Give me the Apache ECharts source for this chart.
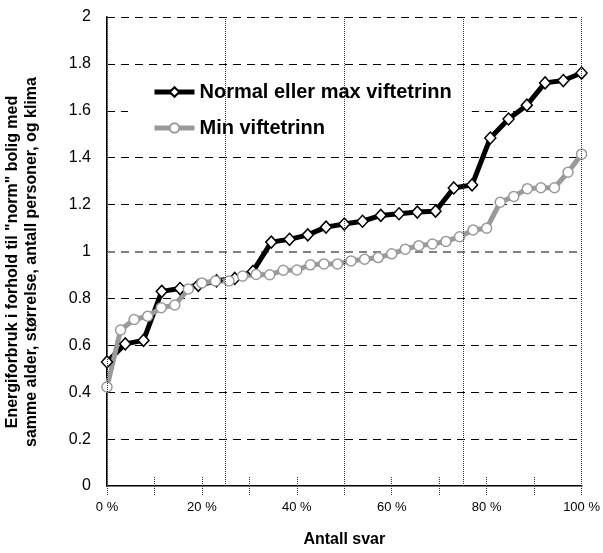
<!DOCTYPE html>
<html>
<head>
<meta charset="utf-8">
<script src="https://cdn.jsdelivr.net/npm/echarts@6/dist/echarts.min.js"></script>
<style>
html,body{margin:0;padding:0;background:#fff;}
#chart{width:603px;height:553px;}
</style>
</head>
<body>
<div id="chart"></div>
<script>
// Series values (sorted responses)
const normalName = 'Normal eller max viftetrinn';
const normalValues = [0.529, 0.606, 0.621, 0.830, 0.842, 0.856, 0.875, 0.885, 0.915, 1.040,
  1.052, 1.071, 1.104, 1.117, 1.129, 1.154, 1.161, 1.168, 1.172, 1.271,
  1.284, 1.484, 1.565, 1.624, 1.719, 1.729, 1.761];
const minName = 'Min viftetrinn';
const minValues = [0.422, 0.665, 0.710, 0.724, 0.760, 0.772, 0.840, 0.866, 0.874, 0.874,
  0.895, 0.902, 0.901, 0.920, 0.921, 0.943, 0.947, 0.947, 0.960, 0.967,
  0.974, 0.990, 1.010, 1.025, 1.032, 1.043, 1.063, 1.092, 1.099, 1.210,
  1.235, 1.268, 1.272, 1.272, 1.338, 1.415];
const xTickLabels = ['0 %', '20 %', '40 %', '60 %', '80 %', '100 %'];
const xAxisTitle = 'Antall svar';
const yAxisTitle = ['Energiforbruk i forhold til "norm" bolig med', 'samme alder, størrelse, antall personer, og klima'];
const referenceLevel = 1;

// share of responses (percent rank) for each sorted value
function withPercent(arr) {
  return arr.map((v, i) => [i * 100 / (arr.length - 1), v]);
}

const FONT = '"Liberation Sans", Arial, sans-serif';
const chart = echarts.init(document.getElementById('chart'), null, {renderer: 'canvas'});

chart.setOption({
  animation: false,
  backgroundColor: '#fff',
  textStyle: {fontFamily: FONT},
  grid: {left: 107, right: 19, top: 17, bottom: 60, containLabel: false},
  legend: {
    orient: 'vertical',
    left: 128, top: 67,
    padding: [15, 20, 15, 24],
    backgroundColor: '#fff',
    itemWidth: 40, itemHeight: 12, itemGap: 16,
    selectedMode: false,
    z: 4,
    lineStyle: {width: 5},
    textStyle: {fontFamily: FONT, fontWeight: 'bold', fontSize: 20, color: '#000'},
    data: [normalName, minName]
  },
  xAxis: [
    {
      type: 'value', min: 0, max: 100, interval: 10, position: 'bottom',
      axisLine: {lineStyle: {color: '#000', width: 2}},
      axisTick: {inside: true, length: 9, lineStyle: {type: 'dotted', color: '#333'}},
      axisLabel: {
        fontSize: 13, color: '#000', margin: 15, fontFamily: FONT,
        showMinLabel: true, showMaxLabel: true,
        formatter: function (v) { return v % 20 === 0 ? xTickLabels[v / 20] : ''; }
      },
      splitLine: {show: false},
      name: xAxisTitle, nameLocation: 'middle', nameGap: 46,
      nameTextStyle: {fontFamily: FONT, fontWeight: 'bold', fontSize: 16, color: '#000'}
    },
    {
      type: 'value', min: 0, max: 100, interval: 10, position: 'top',
      axisLine: {lineStyle: {color: '#808080', width: 1}},
      axisTick: {inside: true, length: 9, lineStyle: {type: 'dotted', color: '#333'}},
      axisLabel: {show: false},
      splitLine: {show: false}
    },
    {
      type: 'value', min: 0, max: 100, interval: 25, position: 'top',
      axisLine: {show: false}, axisTick: {show: false}, axisLabel: {show: false},
      splitLine: {show: true, lineStyle: {type: 'dotted', color: '#333', width: 1}},
      z: 10
    }
  ],
  yAxis: [
    {
      type: 'value', min: 0, max: 2, interval: 0.2, position: 'left',
      axisLine: {show: true, lineStyle: {color: '#000', width: 2}},
      axisTick: {show: false},
      axisLabel: {fontSize: 16, color: '#000', margin: 16, fontFamily: FONT},
      splitLine: {show: true, lineStyle: {type: [8, 6], color: '#000', width: 1}}
    },
    {
      type: 'value', min: 0, max: 2, interval: 0.2, position: 'right',
      axisLine: {show: true, lineStyle: {color: '#808080', width: 1}},
      axisTick: {show: false}, axisLabel: {show: false}, splitLine: {show: false}
    }
  ],
  graphic: [{
    type: 'text',
    x: 22, y: 262,
    rotation: Math.PI / 2,
    style: {
      text: yAxisTitle.join('\n'),
      font: 'bold 16px ' + FONT,
      fill: '#000',
      align: 'center',
      verticalAlign: 'middle',
      lineHeight: 19
    }
  }],
  series: [
    {
      name: normalName, type: 'line', xAxisIndex: 0, yAxisIndex: 0,
      data: withPercent(normalValues),
      symbol: 'diamond', symbolSize: [11, 12],
      lineStyle: {color: '#000', width: 5},
      itemStyle: {color: '#fff', borderColor: '#000', borderWidth: 1.5},
      z: 3,
      markLine: {
        silent: true, symbol: 'none', label: {show: false},
        lineStyle: {color: '#808080', type: [8, 6], width: 2},
        data: [{yAxis: referenceLevel}],
        z: 1
      }
    },
    {
      name: minName, type: 'line', xAxisIndex: 0, yAxisIndex: 0,
      data: withPercent(minValues),
      symbol: 'circle', symbolSize: 10,
      lineStyle: {color: '#9a9a9a', width: 5},
      itemStyle: {color: '#fff', borderColor: '#9a9a9a', borderWidth: 1.5},
      z: 3
    }
  ]
});
</script>
</body>
</html>
